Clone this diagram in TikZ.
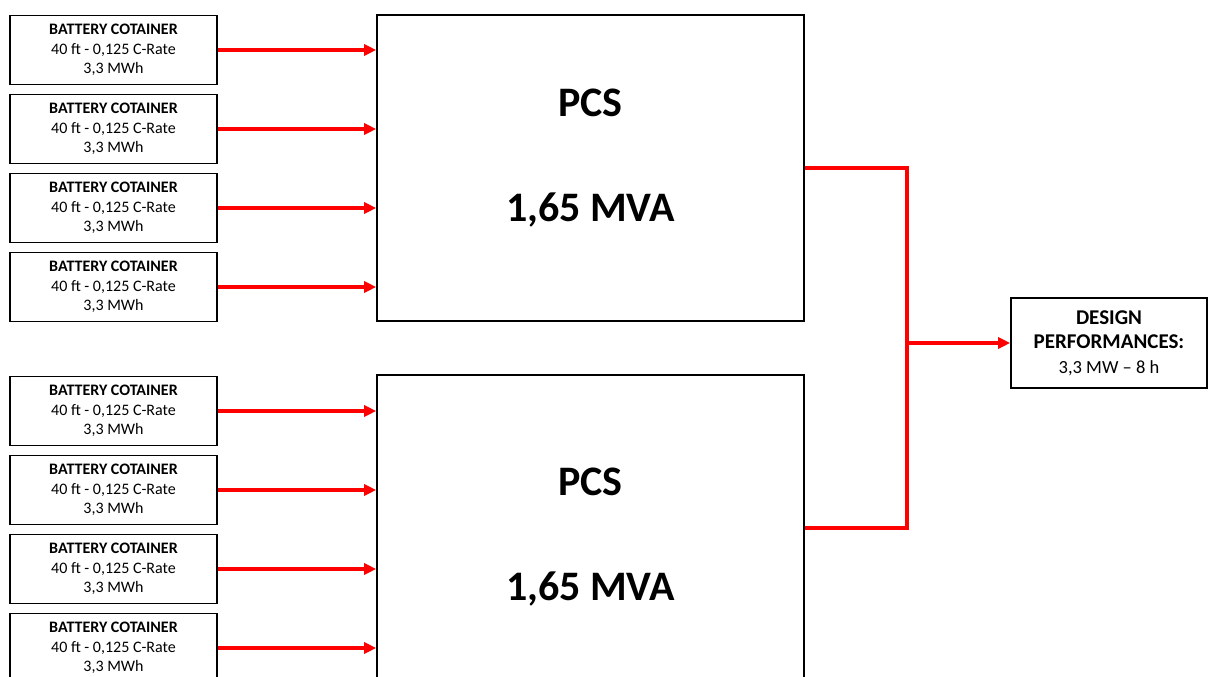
\documentclass[tikz,border=0pt]{standalone}
\usepackage{fontspec}
\setmainfont{Carlito}
\usetikzlibrary{arrows.meta}
\begin{document}
\begin{tikzpicture}[x=1pt,y=-1pt,
  batt/.style={draw=black,line width=1.6pt,minimum width=207pt,minimum height=69pt,inner sep=0pt,align=center,font=\fontsize{16}{19.5}\selectfont},
  pcsbox/.style={draw=black,line width=1.6pt,minimum width=427pt,minimum height=306pt,inner sep=0pt},
  big/.style={font=\fontsize{42}{48}\selectfont\bfseries,inner sep=0pt,text depth=0pt},
  design/.style={draw=black,line width=1.6pt,minimum width=196pt,minimum height=90pt,inner sep=0pt,align=center,font=\fontsize{21}{24.5}\selectfont},
  feed/.style={draw=red,line width=3.5pt,-{Triangle[length=12pt,width=11pt]}},
  wire/.style={draw=red,line width=3.5pt}]
\clip (0,0) rectangle (1208,677);
\fill[white] (0,0) rectangle (1208,677);
\foreach \i/\y in {1/50,2/129,3/208,4/287,5/411,6/490,7/569,8/648}{
  \node[batt] (b\i) at (113.5,\y) {\textbf{BATTERY COTAINER}\\40 ft - 0,125 C-Rate\\3,3 MWh};
}
\node[pcsbox] (pcs1) at (590.5,168) {};
\node[pcsbox] (pcs2) at (590.5,528) {};
\node[big] (t1) at (590.5,103) {PCS};
\node[big] (m1) at (590.5,207) {1,65 MVA};
\node[big] (t2) at (590.5,482) {PCS};
\node[big] (m2) at (590.5,586) {1,65 MVA};
\node[design] (des) at (1109,343) {\textbf{DESIGN}\\\textbf{PERFORMANCES:}\\{\fontsize{18.5}{24}\selectfont 3,3 MW – 8 h}};
\foreach \i in {1,2,3,4}{
  \draw[feed] (b\i.east) -- (pcs1.west |- b\i.east);
}
\foreach \i in {5,6,7,8}{
  \draw[feed] (b\i.east) -- (pcs2.west |- b\i.east);
}
\coordinate (j) at (907,343);
\draw[wire,line join=miter] (pcs1.east) -| (j) |- (pcs2.east);
\draw[feed] (j) -- (des.west);
\end{tikzpicture}
\end{document}
